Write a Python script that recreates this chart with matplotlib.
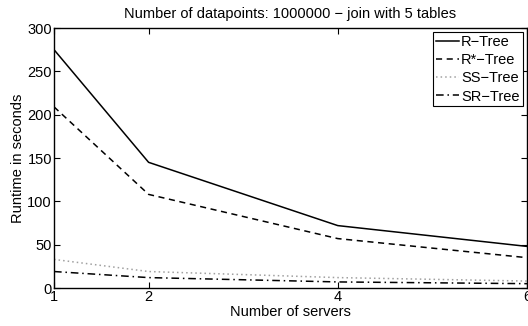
import matplotlib
matplotlib.use('Agg')
import matplotlib.pyplot as plt

plt.rcParams['font.family'] = ['Liberation Sans', 'DejaVu Sans']

# data
servers = [1, 2, 4, 6]
r_tree = [275, 145, 72, 48]
rstar_tree = [209, 108, 57, 35]
ss_tree = [33, 19, 12, 8]
sr_tree = [19, 12, 7, 5]

fig = plt.figure(figsize=(5.28, 3.26), dpi=100)
ax = fig.add_axes([54 / 528, 38 / 326, 473 / 528, 260 / 326])

ax.plot(servers, r_tree, color='black', lw=1.1, ls='-', label='R\u2212Tree')
ax.plot(servers, rstar_tree, color='black', lw=1.1, ls=(0, (4, 3)), label='R*\u2212Tree')
ax.plot(servers, ss_tree, color='#a0a0a0', lw=1.1, ls=(0, (1, 2)), label='SS\u2212Tree')
ax.plot(servers, sr_tree, color='black', lw=1.1, ls=(0, (5, 2.5, 1, 2.5)), label='SR\u2212Tree')

ax.set_xlim(1, 6)
ax.set_ylim(0, 300)
ax.set_xticks([1, 2, 4, 6])
ax.set_yticks(range(0, 301, 50))
ax.tick_params(direction='in', top=True, right=True, labelsize=10.5, length=4, pad=1.5)
for s in ax.spines.values():
    s.set_linewidth(1.0)

ax.set_title('Number of datapoints: 1000000 \u2212 join with 5 tables', fontsize=10.5, pad=7)
ax.set_xlabel('Number of servers', fontsize=10.5, labelpad=1)
ax.set_ylabel('Runtime in seconds', fontsize=10.5, labelpad=2)

leg = ax.legend(loc='upper right', fontsize=10.5, handlelength=1.6, handletextpad=0.15,
                borderpad=0.2, labelspacing=0.28, borderaxespad=0.3,
                fancybox=False, framealpha=1, edgecolor='black')
leg.get_frame().set_linewidth(0.8)

fig.savefig('out.png', dpi=100)
